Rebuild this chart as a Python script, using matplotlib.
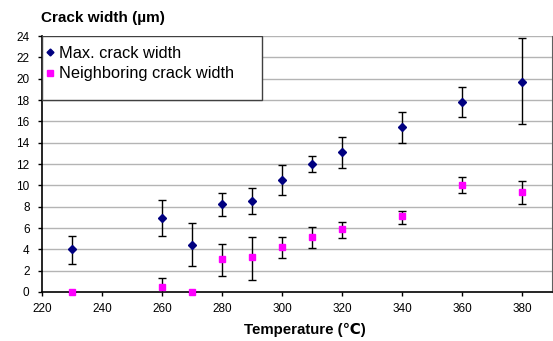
import matplotlib
matplotlib.use('Agg')
import matplotlib.pyplot as plt
from matplotlib.patches import Rectangle
from matplotlib.lines import Line2D

plt.rcParams['font.family'] = ['Liberation Sans', 'DejaVu Sans']

temp_max = [230, 260, 270, 280, 290, 300, 310, 320, 340, 360, 380]
max_width = [4.03, 6.97, 4.4, 8.28, 8.56, 10.5, 12.0, 13.09, 15.44, 17.8, 19.7]
max_low = [2.62, 5.28, 2.4, 7.16, 7.28, 9.06, 11.22, 11.6, 13.97, 16.43, 15.75]
max_high = [5.28, 8.62, 6.5, 9.3, 9.78, 11.87, 12.78, 14.56, 16.9, 19.18, 23.8]

temp_nb = [230, 260, 270, 280, 290, 300, 310, 320, 340, 360, 380]
nb_width = [0.03, 0.5, 0.03, 3.1, 3.28, 4.25, 5.15, 5.94, 7.12, 10.06, 9.37]
nb_low = [0.03, -0.28, 0.03, 1.53, 1.16, 3.2, 4.1, 5.1, 6.37, 9.25, 8.25]
nb_high = [0.03, 1.28, 0.03, 4.47, 5.19, 5.19, 6.1, 6.56, 7.6, 10.75, 10.43]

x_ticks = [220, 240, 260, 280, 300, 320, 340, 360, 380]
y_ticks = [0, 2, 4, 6, 8, 10, 12, 14, 16, 18, 20, 22, 24]

fig = plt.figure(figsize=(5.53, 3.41), dpi=100)
ax = fig.add_axes([0.076, 0.1437, 0.922, 0.7507])

for y in y_ticks[1:]:
    ax.axhline(y, color='#b4b4b4', lw=1.0, zorder=0)

def errs(v, lo, hi):
    return [[a - b for a, b in zip(v, lo)], [c - a for a, c in zip(v, hi)]]

ax.errorbar(temp_max, max_width, yerr=errs(max_width, max_low, max_high),
            fmt='none', ecolor='black', elinewidth=1.0, capsize=3, capthick=1.0, zorder=2)
ax.errorbar(temp_nb, nb_width, yerr=errs(nb_width, nb_low, nb_high),
            fmt='none', ecolor='black', elinewidth=1.0, capsize=3, capthick=1.0, zorder=2)
ax.plot(temp_max, max_width, 'D', color='#000080', ms=4.5, mec='#000080', zorder=3, clip_on=False)
ax.plot(temp_nb, nb_width, 's', color='#ff00ff', ms=5, mec='#ff00ff', zorder=3, clip_on=False)

ax.set_xlim(220, 390)
ax.set_ylim(0, 24)
ax.set_xticks(x_ticks)
ax.set_yticks(y_ticks)
ax.tick_params(labelsize=8.5, length=3, width=1, direction='out', color='black')
ax.tick_params(axis='x', pad=5)
ax.tick_params(axis='y', pad=6)
ax.spines['top'].set_visible(False)
ax.spines['right'].set_color('#606060')
ax.spines['left'].set_linewidth(1.2)
ax.spines['bottom'].set_linewidth(1.2)

fig.text(304.5 / 553, 1 - 330 / 341, 'Temperature (℃)', fontsize=10.8,
         fontweight='bold', va='center', ha='center')
fig.text(41 / 553, 1 - 18 / 341, 'Crack width (µm)', fontsize=11, fontweight='bold',
         va='center', ha='left')

# legend box
ax.add_patch(Rectangle((0, 0.75), 0.431, 0.25, transform=ax.transAxes,
                       facecolor='white', edgecolor='#404040', lw=1.0, zorder=4))
handles = [Line2D([], [], marker='D', color='#000080', ls='none', ms=3.5),
           Line2D([], [], marker='s', color='#ff00ff', ls='none', ms=4.5)]
leg = ax.legend(handles, ['Max. crack width', 'Neighboring crack width'],
                loc='upper left', bbox_to_anchor=(-0.012, 1.0), frameon=False,
                fontsize=11.8, handlelength=0.5, handletextpad=0.3,
                borderaxespad=0.2, labelspacing=0.34)
leg.set_zorder(5)

plt.savefig('out.png', dpi=100)
